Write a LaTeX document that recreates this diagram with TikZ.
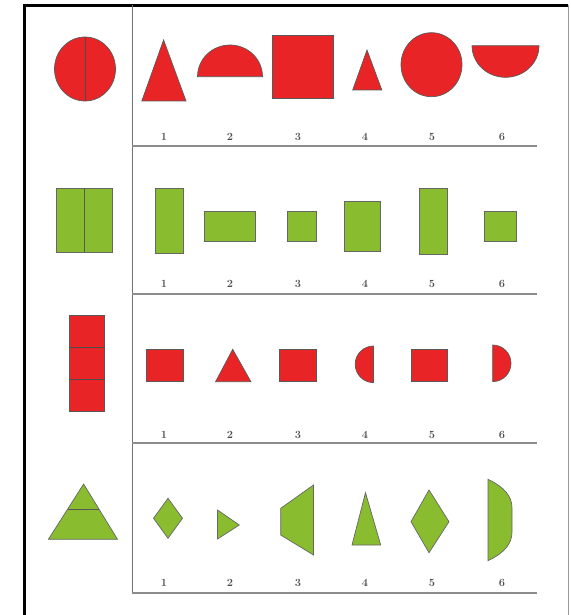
\documentclass[tikz,border=0pt]{standalone}
\usepackage{tikz}
\definecolor{rossofig}{RGB}{232,36,38}
\definecolor{verdefig}{RGB}{138,188,48}
\tikzset{
  rosso/.style   = {fill=rossofig, draw=black!65, line width=0.7pt},
  verde/.style   = {fill=verdefig, draw=black!60, line width=0.7pt},
  cornice/.style = {line width=2.4pt, black},
  linea/.style   = {line width=1.6pt, black!45},
  divisore/.style = {line width=0.8pt, black!55},
  et/.style      = {font=\fontsize{11}{12}\selectfont\bfseries, text=black!70, inner sep=1pt}
}

\begin{document}
\begin{tikzpicture}[x=1pt,y=-1pt]
  \useasboundingbox (0,0) rectangle (570,615);
  \draw[cornice] (24.5,615) -- (24.5,5.5) -- (568,5.5);
  \draw[black!40, line width=1pt] (568,5.5) -- (568,615);
  \draw[divisore] (132,5.5) -- (132,593);
  \foreach \y in {146,294,443,593} \draw[linea] (132,\y) -- (537,\y);
  \foreach \r/\y in {a/137,b/284,c/435,d/583}
    \foreach \x [count=\i] in {164,230,298,365,432,502}
      \node[et] (n\r\i) at (\x,\y) {\i};

  % riga 1
  \draw[rosso] (85,69) ellipse [x radius=30.5, y radius=32]; \draw[black!70, line width=0.8pt] (85,37) -- (85,101);
  \draw[rosso] (163.6,40) -- (186,101) -- (141.8,101) -- cycle;
  \draw[rosso] (197.5,76.7) arc [start angle=180, end angle=360, x radius=32.5, y radius=31.7] -- cycle;
  \draw[rosso] (272.7,35.7) rectangle (333.8,98.7);
  \draw[rosso] (367,50) -- (381.8,90) -- (352.7,90) -- cycle;
  \draw[rosso] (431.5,64.7) ellipse [x radius=30.5, y radius=32];
  \draw[rosso] (472,45.7) arc [start angle=180, end angle=0, x radius=33.5, y radius=31.6] -- cycle;

  % riga 2
  \draw[verde] (56.4,188.3) rectangle (112,252.3); \draw[black!65, line width=0.8pt] (84,188.3) -- (84,252.3);
  \draw[verde] (155.6,188.3) rectangle (183.6,253.3);
  \draw[verde] (204.7,211) rectangle (255.3,241.7);
  \draw[verde] (287.3,211) rectangle (316.4,241.7);
  \draw[verde] (344.7,201.7) rectangle (380,251.7);
  \draw[verde] (419,188.3) rectangle (447.3,254);
  \draw[verde] (484.7,211) rectangle (516.4,241.7);

  % riga 3
  \draw[rosso] (69.8,315) rectangle (104.7,411.7);
  \draw[black!70, line width=0.8pt] (69.8,347.5) -- (104.7,347.5) (69.8,379) -- (104.7,379);
  \draw[rosso] (146.5,349) rectangle (183.6,381.7);
  \draw[rosso] (232.7,349.3) -- (250.9,381.7) -- (215.6,381.7) -- cycle;
  \draw[rosso] (279,349) rectangle (316.4,381.7);
  \draw[rosso] (373.5,346) arc [start angle=270, end angle=90, radius=18.3] -- cycle;
  \draw[rosso] (411,349) rectangle (447.3,381.7);
  \draw[rosso] (492.7,345) arc [start angle=270, end angle=450, radius=18.3] -- cycle;

  % riga 4
  \draw[verde] (83.6,484) -- (117.5,539.3) -- (48.4,539.3) -- cycle;
  \draw[black!65, line width=0.8pt] (68,509) -- (99.2,509);
  \draw[verde] (168,498.3) -- (182.5,518.3) -- (168,538.3) -- (153.5,518.3) -- cycle;
  \draw[verde] (217.5,510) -- (239.3,525) -- (217.5,539) -- cycle;
  \draw[verde] (313.5,485) -- (313.5,555) -- (280.7,535) -- (280.7,508.3) -- cycle;
  \draw[verde] (365.5,492.7) -- (380.7,545) -- (352,545) -- cycle;
  \draw[verde] (429,490) -- (449,521.7) -- (429,552.7) -- (411,521.7) -- cycle;
  \draw[verde] (488,479.3) .. controls (504,487) and (512,496) .. (512,508) -- (512,532)
    .. controls (512,544) and (504,553) .. (488,560.7) -- cycle;
\end{tikzpicture}
\end{document}
